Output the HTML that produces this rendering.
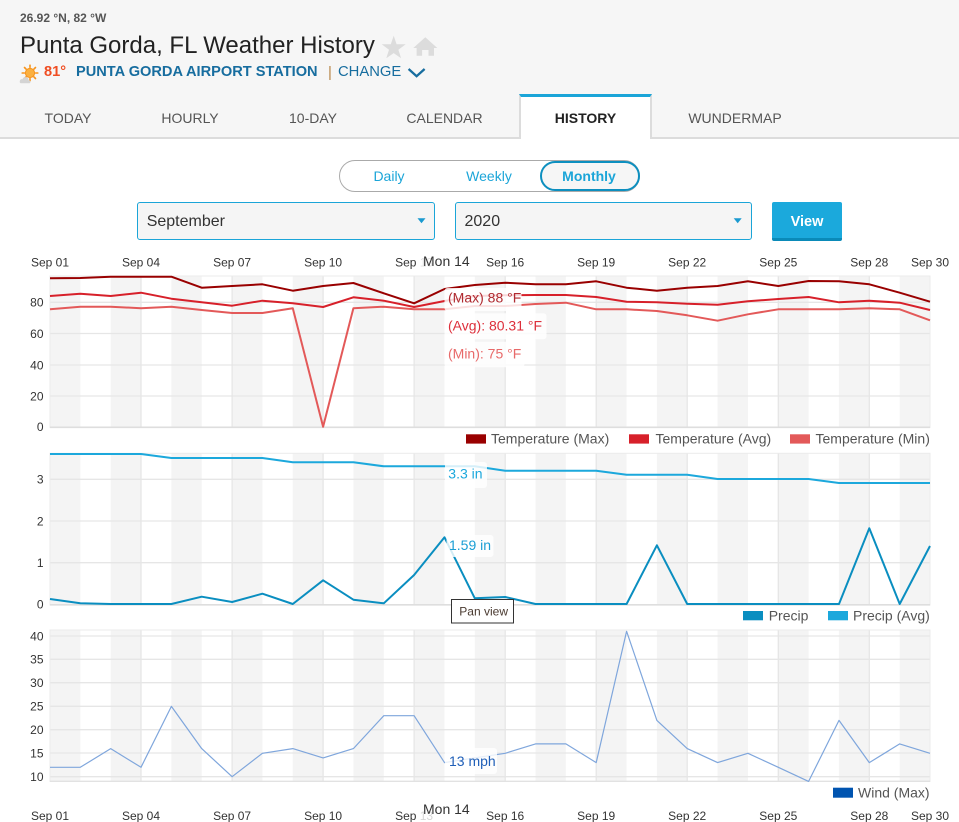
<!DOCTYPE html>
<html>
<head>
<meta charset="utf-8">
<style>
  html,body{margin:0;padding:0;}
  body{width:959px;height:822px;overflow:hidden;background:#fff;position:relative;font-family:"Liberation Sans",Arial,sans-serif;}
  .abs{position:absolute;white-space:nowrap;}
  #hdr{position:absolute;left:0;top:0;width:959px;height:139px;background:#f6f6f6;}
  #hdrline{position:absolute;left:0;top:137px;width:959px;height:2px;background:#dcdcdc;}
  #acttab{position:absolute;left:519px;top:94px;width:133px;height:45px;background:#fff;border-top:3px solid #1ba5d8;border-left:2px solid #dcdcdc;border-right:2px solid #dcdcdc;box-sizing:border-box;}
  .tab{position:absolute;top:110.5px;width:140px;text-align:center;font-size:14px;line-height:14px;color:#555;}
  .pill{position:absolute;left:339px;top:160px;width:301px;height:32px;border:1.5px solid #aaa;border-radius:17px;box-sizing:border-box;}
  .mpill{position:absolute;left:540px;top:161px;width:100px;height:30px;border:2px solid #0d8fbf;border-radius:16px;box-sizing:border-box;background:#f6f6f6;}
  .tg{position:absolute;top:169.2px;width:100px;text-align:center;font-size:14px;line-height:14px;color:#1ba5d8;}
  .sel{position:absolute;top:202px;height:38px;border:1px solid #1ba5d8;border-radius:3px;background:#f5f5f5;box-sizing:border-box;}
  .seltxt{position:absolute;top:213.8px;font-size:16px;line-height:16px;color:#333;}
  .btn{position:absolute;left:772px;top:202px;width:70px;height:39px;background:#1ba9dc;border-bottom:3px solid #0a8ab8;border-radius:2px;box-sizing:border-box;}
</style>
</head>
<body>
<div id="hdr"></div>
<div id="hdrline"></div>
<div id="acttab"></div>

<div class="abs" style="left:20px;top:12.1px;font-size:12px;line-height:12px;font-weight:bold;color:#555;">26.92 °N, 82 °W</div>
<div class="abs" style="left:20px;top:34px;font-size:24px;line-height:24px;color:#222;">Punta Gorda, FL Weather History</div>

<svg class="abs" style="left:0;top:0;" width="959" height="139" viewBox="0 0 959 139">
  <!-- star -->
  <polygon points="393.7,35.7 396.6,44.2 405.7,44.3 398.4,49.7 401.1,58.3 393.7,53.1 386.3,58.3 389,49.7 381.7,44.3 390.8,44.2" fill="#dcdcdc"/>
  <!-- home -->
  <path d="M425.3,37.3 L437.3,48 L434,48 L434,55.7 L428.5,55.7 L428.5,50 L422.1,50 L422.1,55.7 L416.6,55.7 L416.6,48 L413.3,48 Z" fill="#dcdcdc"/>
  <!-- sun icon -->
  <g>
    <g stroke="#f7941d" stroke-width="1.6" stroke-linecap="round">
      <line x1="30" y1="65.2" x2="30" y2="67.4"/>
      <line x1="30" y1="78.6" x2="30" y2="80.8"/>
      <line x1="22.2" y1="73" x2="24.4" y2="73"/>
      <line x1="35.6" y1="73" x2="37.8" y2="73"/>
      <line x1="24.5" y1="67.5" x2="26" y2="69"/>
      <line x1="34" y1="77" x2="35.5" y2="78.5"/>
      <line x1="35.5" y1="67.5" x2="34" y2="69"/>
      <line x1="26" y1="77" x2="24.5" y2="78.5"/>
    </g>
    <circle cx="30" cy="73" r="4.6" fill="#fbb040" stroke="#f7941d" stroke-width="1"/>
    <path d="M21,83.3 Q19.5,83.3 19.8,81 Q20.3,78.8 22.5,79.2 Q23.5,76.5 26.3,77.3 Q28.6,77.8 28.6,80.2 Q30.6,80.3 30.4,82 Q30.2,83.3 28.8,83.3 Z" fill="#d4d4d4"/>
  </g>
  <!-- chevron -->
  <polyline points="408.6,69 416.6,76.2 424.6,69" fill="none" stroke="#176d9f" stroke-width="2.3"/>
</svg>

<div class="abs" style="left:44px;top:65.3px;font-size:14.6px;line-height:14.6px;font-weight:bold;color:#f04e23;">81°</div>
<div class="abs" style="left:76px;top:65.3px;font-size:14.6px;line-height:14.6px;font-weight:bold;color:#176d9f;">PUNTA GORDA AIRPORT STATION</div>
<div class="abs" style="left:328px;top:64.8px;font-size:15px;line-height:15px;color:#b8864a;">|</div>
<div class="abs" style="left:338px;top:65.3px;font-size:14.8px;line-height:14.8px;color:#176d9f;">CHANGE</div>

<div class="tab" style="left:-2px;">TODAY</div>
<div class="tab" style="left:120px;">HOURLY</div>
<div class="tab" style="left:243px;">10-DAY</div>
<div class="tab" style="left:374.5px;">CALENDAR</div>
<div class="tab" style="left:515.5px;font-weight:bold;color:#222;">HISTORY</div>
<div class="tab" style="left:665px;">WUNDERMAP</div>

<div class="pill"></div>
<div class="mpill"></div>
<div class="tg" style="left:339px;">Daily</div>
<div class="tg" style="left:439px;">Weekly</div>
<div class="tg" style="left:539px;font-weight:bold;">Monthly</div>

<div class="sel" style="left:137px;width:298px;"></div>
<div class="seltxt" style="left:146.7px;">September</div>
<div class="sel" style="left:455px;width:297px;"></div>
<div class="seltxt" style="left:464.5px;">2020</div>
<svg class="abs" style="left:0;top:0;" width="959" height="250" viewBox="0 0 959 250">
  <polygon points="417.5,218.3 425.5,218.3 421.5,223.3" fill="#1a9ad0"/>
  <polygon points="733.7,218.3 741.7,218.3 737.7,223.3" fill="#1a9ad0"/>
</svg>
<div class="btn"></div>
<div class="abs" style="left:772px;top:214.7px;width:70px;text-align:center;font-size:14.5px;line-height:14.5px;font-weight:bold;color:#fff;">View</div>

<svg class="abs" style="left:0;top:0;" width="959" height="822" viewBox="0 0 959 822" font-family="'Liberation Sans', Arial, sans-serif">
  <defs>
    <pattern id="bands" x="50" y="0" width="60.69" height="822" patternUnits="userSpaceOnUse">
      <rect x="0" y="0" width="30.345" height="822" fill="#f4f4f4"/>
    </pattern>
  </defs>

  <!-- top axis labels -->
  <g font-size="12" fill="#333" text-anchor="middle">
    <text x="50" y="266.7">Sep 01</text>
    <text x="141" y="266.7">Sep 04</text>
    <text x="232.1" y="266.7">Sep 07</text>
    <text x="323.1" y="266.7">Sep 10</text>
    <text x="414.1" y="266.7">Sep 13</text>
    <text x="505.2" y="266.7">Sep 16</text>
    <text x="596.2" y="266.7">Sep 19</text>
    <text x="687.2" y="266.7">Sep 22</text>
    <text x="778.3" y="266.7">Sep 25</text>
    <text x="869.3" y="266.7">Sep 28</text>
    <text x="930" y="266.7">Sep 30</text>
  </g>
  <!-- bottom axis labels -->
  <g font-size="12" fill="#333" text-anchor="middle">
    <text x="50" y="820">Sep 01</text>
    <text x="141" y="820">Sep 04</text>
    <text x="232.1" y="820">Sep 07</text>
    <text x="323.1" y="820">Sep 10</text>
    <text x="414.1" y="820">Sep 13</text>
    <text x="505.2" y="820">Sep 16</text>
    <text x="596.2" y="820">Sep 19</text>
    <text x="687.2" y="820">Sep 22</text>
    <text x="778.3" y="820">Sep 25</text>
    <text x="869.3" y="820">Sep 28</text>
    <text x="930" y="820">Sep 30</text>
  </g>

  <!-- ===== Temperature chart ===== -->
  <rect x="50" y="276" width="880" height="151.5" fill="url(#bands)"/>
  <g stroke="#e6e6e6" stroke-width="1.3">
    <line x1="141" y1="276" x2="141" y2="427.5"/>
    <line x1="232.1" y1="276" x2="232.1" y2="427.5"/>
    <line x1="323.1" y1="276" x2="323.1" y2="427.5"/>
    <line x1="414.1" y1="276" x2="414.1" y2="427.5"/>
    <line x1="505.2" y1="276" x2="505.2" y2="427.5"/>
    <line x1="596.2" y1="276" x2="596.2" y2="427.5"/>
    <line x1="687.2" y1="276" x2="687.2" y2="427.5"/>
    <line x1="778.3" y1="276" x2="778.3" y2="427.5"/>
    <line x1="869.3" y1="276" x2="869.3" y2="427.5"/>
    <line x1="50" y1="396" x2="930" y2="396"/>
    <line x1="50" y1="365" x2="930" y2="365"/>
    <line x1="50" y1="333.5" x2="930" y2="333.5"/>
    <line x1="50" y1="302.3" x2="930" y2="302.3"/>
  </g>
  <rect x="50" y="276" width="880" height="151.5" fill="none" stroke="#ebebeb" stroke-width="1"/>
  <line x1="50" y1="427.3" x2="930" y2="427.3" stroke="#dedede" stroke-width="1.6"/>
  <g font-size="12" fill="#333" text-anchor="end">
    <text x="43.5" y="431">0</text>
    <text x="43.5" y="400.3">20</text>
    <text x="43.5" y="369.3">40</text>
    <text x="43.5" y="337.8">60</text>
    <text x="43.5" y="306.6">80</text>
  </g>
  <g fill="none" stroke-width="2" stroke-linejoin="round">
    <polyline stroke="#e35959" points="50,309.3 80.3,306.7 110.7,306.7 141,308.3 171.4,306.7 201.7,310 232.1,313 262.4,313 292.8,308.3 323.1,426.7 353.4,308.3 383.8,306.7 414.1,309.3 444.5,309.3 474.8,306 505.2,306 535.5,304 565.9,302.7 596.2,309.3 626.6,309.3 656.9,311 687.2,315.3 717.6,320.7 747.9,314.3 778.3,309.3 808.6,309.3 839,309.3 869.3,308.3 899.7,309.3 930,320.3"/>
    <polyline stroke="#d7202a" points="50,296 80.3,293.7 110.7,296 141,292.7 171.4,298.7 201.7,302.3 232.1,305.7 262.4,300.7 292.8,303.3 323.1,307 353.4,297.3 383.8,300.7 414.1,307 444.5,301 474.8,296 505.2,295.3 535.5,295 565.9,295 596.2,297 626.6,301.7 656.9,302.3 687.2,303.7 717.6,304.7 747.9,301.3 778.3,299 808.6,297 839,302.3 869.3,300.7 899.7,302.7 930,310"/>
    <polyline stroke="#990000" points="50,278.3 80.3,278 110.7,276.7 141,276.7 171.4,276.7 201.7,287.7 232.1,286 262.4,284.3 292.8,290.7 323.1,286 353.4,283 383.8,293.3 414.1,303.3 444.5,289 474.8,285 505.2,282.7 535.5,284.3 565.9,284.3 596.2,281.3 626.6,287.7 656.9,290.7 687.2,287.7 717.6,286 747.9,281.3 778.3,286 808.6,281 839,281.3 869.3,284.3 899.7,292.7 930,301.7"/>
  </g>
  <!-- temperature tooltip -->
  <g>
    <rect x="444.5" y="288" width="77" height="23" rx="3" fill="#fff" fill-opacity="0.82"/>
    <rect x="444.5" y="313.3" width="102" height="26" rx="3" fill="#fff" fill-opacity="0.82"/>
    <rect x="444.5" y="341.7" width="80" height="25.6" rx="3" fill="#fff" fill-opacity="0.82"/>
    <text x="448" y="302.3" font-size="14" fill="#b02a30">(Max) 88 °F</text>
    <text x="448" y="330.3" font-size="14" fill="#dd2f3b">(Avg): 80.31 °F</text>
    <text x="448" y="358.3" font-size="14" fill="#e86a6a">(Min): 75 °F</text>
  </g>
  <!-- legend temp -->
  <rect x="466" y="434.3" width="20" height="9.3" fill="#990000"/>
  <text x="491" y="443.3" font-size="14" fill="#555">Temperature (Max)</text>
  <rect x="629" y="434.3" width="20" height="9.3" fill="#d7202a"/>
  <text x="655.5" y="443.3" font-size="14" fill="#555">Temperature (Avg)</text>
  <rect x="790" y="434.3" width="20" height="9.3" fill="#e35959"/>
  <text x="815.5" y="443.3" font-size="14" fill="#555">Temperature (Min)</text>

  <!-- ===== Precip chart ===== -->
  <rect x="50" y="453.3" width="880" height="151.7" fill="url(#bands)"/>
  <g stroke="#e6e6e6" stroke-width="1.3">
    <line x1="141" y1="453.3" x2="141" y2="605"/>
    <line x1="232.1" y1="453.3" x2="232.1" y2="605"/>
    <line x1="323.1" y1="453.3" x2="323.1" y2="605"/>
    <line x1="414.1" y1="453.3" x2="414.1" y2="605"/>
    <line x1="505.2" y1="453.3" x2="505.2" y2="605"/>
    <line x1="596.2" y1="453.3" x2="596.2" y2="605"/>
    <line x1="687.2" y1="453.3" x2="687.2" y2="605"/>
    <line x1="778.3" y1="453.3" x2="778.3" y2="605"/>
    <line x1="869.3" y1="453.3" x2="869.3" y2="605"/>
    <line x1="50" y1="562.7" x2="930" y2="562.7"/>
    <line x1="50" y1="521" x2="930" y2="521"/>
    <line x1="50" y1="479.3" x2="930" y2="479.3"/>
  </g>
  <rect x="50" y="453.3" width="880" height="151.7" fill="none" stroke="#ebebeb" stroke-width="1"/>
  <line x1="50" y1="604.8" x2="930" y2="604.8" stroke="#dedede" stroke-width="1.6"/>
  <g font-size="12" fill="#333" text-anchor="end">
    <text x="43.5" y="608.3">0</text>
    <text x="43.5" y="567">1</text>
    <text x="43.5" y="525.3">2</text>
    <text x="43.5" y="483.6">3</text>
  </g>
  <g fill="none" stroke-width="2" stroke-linejoin="round">
    <polyline stroke="#1ca8dc" points="50,454 141,454 171.4,458 262.4,458 292.8,462.3 353.4,462.3 383.8,466.3 474.8,466.3 505.2,470.7 596.2,470.7 626.6,474.7 687.2,474.7 717.6,479 808.6,479 839,483 930,483"/>
    <polyline stroke="#0a8ec0" points="50,599 80.3,603.3 110.7,604 141,604 171.4,604 201.7,596.7 232.1,602 262.4,593.7 292.8,604 323.1,580.3 353.4,599.7 383.8,603.3 414.1,575 444.5,537.3 474.8,598.3 505.2,597 535.5,604 565.9,604 596.2,604 626.6,604 656.9,545.3 687.2,604 717.6,604 747.9,604 778.3,604 808.6,604 839,604 869.3,528.3 899.7,604 930,546"/>
  </g>
  <rect x="445" y="462" width="42" height="26" rx="3" fill="#fff" fill-opacity="0.82"/>
  <rect x="446.5" y="535" width="47" height="22" rx="3" fill="#fff" fill-opacity="0.82"/>
  <text x="448.3" y="478.5" font-size="14" fill="#1ca8dc">3.3 in</text>
  <text x="449" y="550" font-size="14" fill="#1a9ed4">1.59 in</text>
  <!-- Pan view -->
  <rect x="451.5" y="599.5" width="62" height="23.5" fill="#fff" stroke="#333" stroke-width="1"/>
  <text x="459.3" y="615.3" font-size="12" fill="#4a3a30">Pan view</text>
  <!-- legend precip -->
  <rect x="743" y="611" width="20" height="9.3" fill="#0a8ec0"/>
  <text x="768.7" y="620.3" font-size="14" fill="#555">Precip</text>
  <rect x="828" y="611" width="20" height="9.3" fill="#1ca8dc"/>
  <text x="853" y="620.3" font-size="14" fill="#555">Precip (Avg)</text>

  <!-- ===== Wind chart ===== -->
  <rect x="50" y="630" width="880" height="151.5" fill="url(#bands)"/>
  <g stroke="#e6e6e6" stroke-width="1.3">
    <line x1="141" y1="630" x2="141" y2="781.5"/>
    <line x1="232.1" y1="630" x2="232.1" y2="781.5"/>
    <line x1="323.1" y1="630" x2="323.1" y2="781.5"/>
    <line x1="414.1" y1="630" x2="414.1" y2="781.5"/>
    <line x1="505.2" y1="630" x2="505.2" y2="781.5"/>
    <line x1="596.2" y1="630" x2="596.2" y2="781.5"/>
    <line x1="687.2" y1="630" x2="687.2" y2="781.5"/>
    <line x1="778.3" y1="630" x2="778.3" y2="781.5"/>
    <line x1="869.3" y1="630" x2="869.3" y2="781.5"/>
    <line x1="50" y1="776.7" x2="930" y2="776.7"/>
    <line x1="50" y1="753" x2="930" y2="753"/>
    <line x1="50" y1="729.7" x2="930" y2="729.7"/>
    <line x1="50" y1="706.3" x2="930" y2="706.3"/>
    <line x1="50" y1="682.7" x2="930" y2="682.7"/>
    <line x1="50" y1="659.3" x2="930" y2="659.3"/>
    <line x1="50" y1="636" x2="930" y2="636"/>
  </g>
  <rect x="50" y="630" width="880" height="151.5" fill="none" stroke="#ebebeb" stroke-width="1"/>
  <line x1="50" y1="781.3" x2="930" y2="781.3" stroke="#e2e2e2" stroke-width="1.4"/>
  <g font-size="12" fill="#333" text-anchor="end">
    <text x="43.5" y="781">10</text>
    <text x="43.5" y="757.3">15</text>
    <text x="43.5" y="734">20</text>
    <text x="43.5" y="710.6">25</text>
    <text x="43.5" y="687">30</text>
    <text x="43.5" y="663.6">35</text>
    <text x="43.5" y="640.3">40</text>
  </g>
  <polyline fill="none" stroke="#7fa6dc" stroke-width="1.2" stroke-linejoin="round" points="50,767.3 80.3,767.3 110.7,748.6 141,767.3 171.4,706.4 201.7,748.6 232.1,776.7 262.4,753.3 292.8,748.6 323.1,757.9 353.4,748.6 383.8,715.7 414.1,715.7 444.5,762.6 474.8,757.9 505.2,753.3 535.5,743.9 565.9,743.9 596.2,762.6 626.6,631.3 656.9,720.4 687.2,748.6 717.6,762.6 747.9,753.3 778.3,767.3 808.6,781.4 839,720.4 869.3,762.6 899.7,743.9 930,753.3"/>
  <rect x="445" y="748" width="52" height="26" rx="3" fill="#fff" fill-opacity="0.82"/>
  <text x="449" y="766" font-size="14" fill="#1f5fb8">13 mph</text>
  <!-- legend wind -->
  <rect x="833" y="787.7" width="20" height="10" fill="#0054b0"/>
  <text x="858" y="797.3" font-size="14" fill="#555">Wind (Max)</text>

  <!-- Mon 14 crosshair labels -->
  <rect x="420" y="251" width="53" height="21" fill="#fff" fill-opacity="0.85"/>
  <text x="423" y="266" font-size="14" fill="#333">Mon 14</text>
  <rect x="420" y="800" width="53" height="20" fill="#fff" fill-opacity="0.8"/>
  <text x="423" y="814" font-size="14" fill="#333">Mon 14</text>
</svg>
</body>
</html>
